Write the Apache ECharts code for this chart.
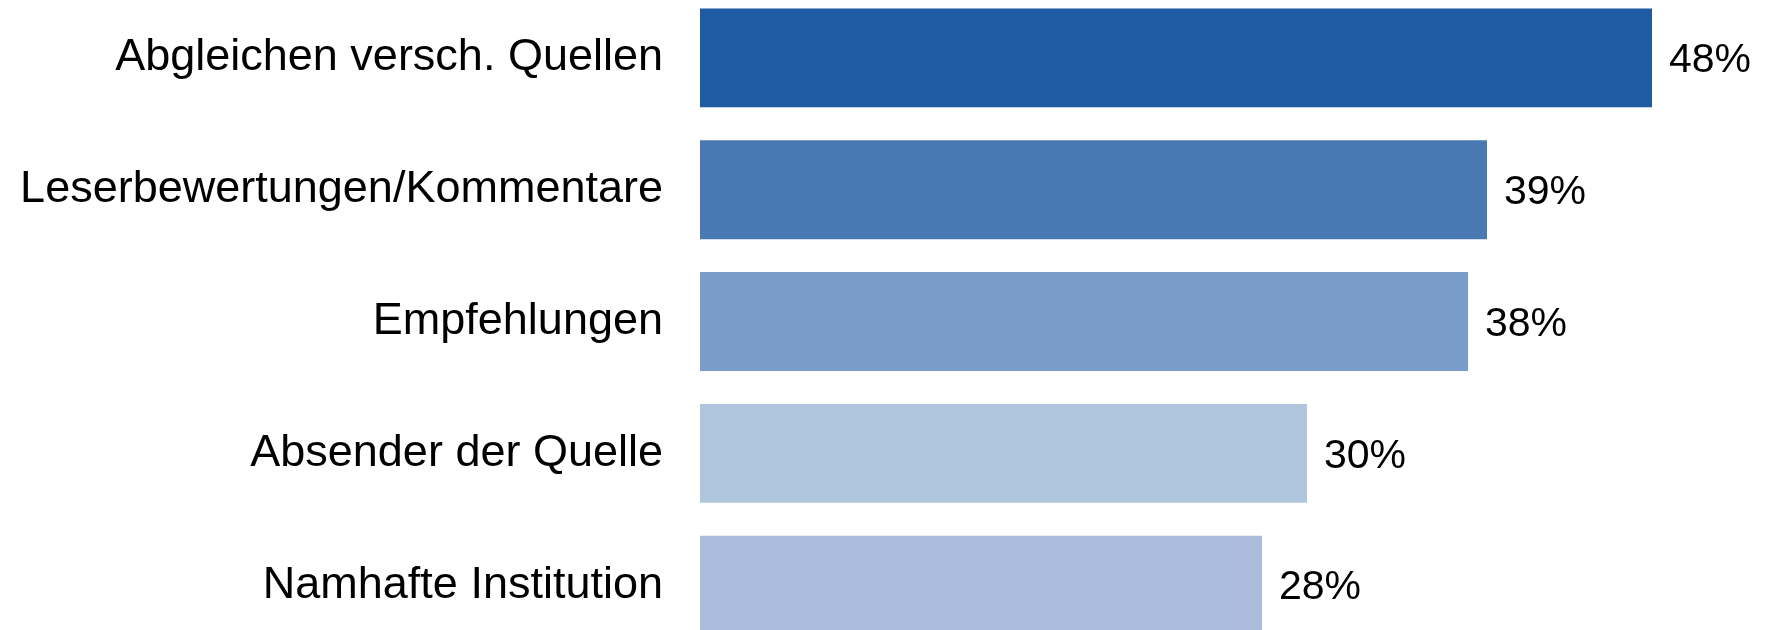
<!DOCTYPE html>
<html>
<head>
<meta charset="utf-8">
<script src="https://cdn.jsdelivr.net/npm/echarts@6/dist/echarts.min.js"></script>
<style>
  html, body { margin: 0; padding: 0; background: #fff; overflow: hidden; }
  #wrap { position: relative; width: 1772px; height: 630px; overflow: hidden; }
  /* the last bar runs off the bottom edge in the original */
  #chart { position: absolute; left: 0; top: -8px; width: 1772px; height: 659px; }
</style>
</head>
<body>
<div id="wrap"><div id="chart"></div></div>
<script>
const categories = [
  "Abgleichen versch. Quellen",
  "Leserbewertungen/Kommentare",
  "Empfehlungen",
  "Absender der Quelle",
  "Namhafte Institution",
];
const values = [47.6, 39.35, 38.4, 30.35, 28.1];
const barColors = ["#1F5BA2", "#4879B3", "#7A9CC8", "#B0C6DF", "#AABCDC"];

const chart = echarts.init(document.getElementById("chart"));
chart.setOption({
  animation: false,
  grid: { left: 700, right: 72, top: 0, bottom: 0 },
  xAxis: {
    type: "value",
    min: 0,
    max: 50,
    show: false,
  },
  yAxis: {
    type: "category",
    data: categories,
    inverse: true,
    axisLine: { show: false },
    axisTick: { show: false },
    axisLabel: {
      margin: 37,
      fontSize: 45,
      color: "#000",
      fontFamily: "Liberation Sans, Arial, sans-serif",
    },
  },
  series: [
    {
      type: "bar",
      barCategoryGap: "25%",
      data: values.map((v, i) => ({ value: v, itemStyle: { color: barColors[i] } })),
      label: {
        show: true,
        position: "right",
        distance: 17,
        offset: [0, 3],
        fontSize: 41,
        color: "#000",
        fontFamily: "Liberation Sans, Arial, sans-serif",
        formatter: (p) => Math.round(p.value) + "%",
      },
    },
  ],
});
</script>
</body>
</html>
